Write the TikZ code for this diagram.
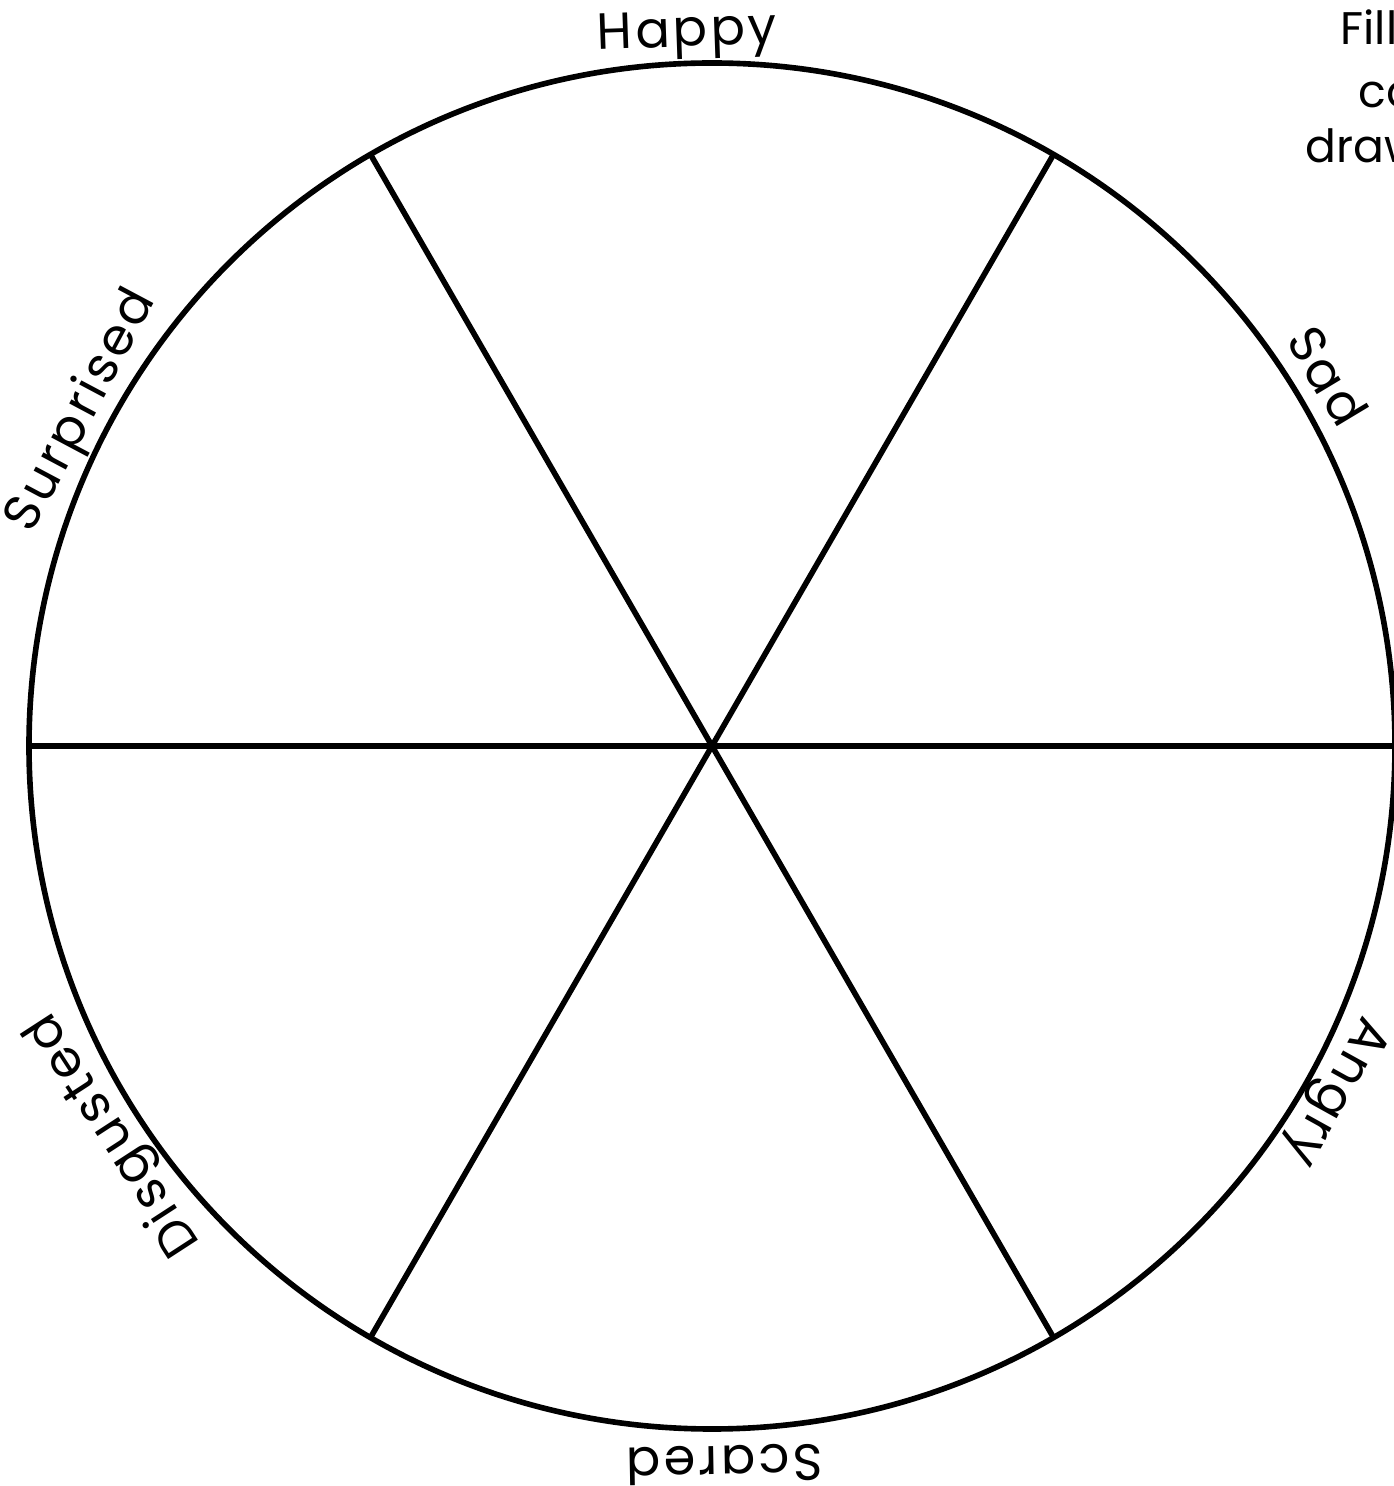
\documentclass[tikz,border=0pt]{standalone}
\usepackage{fontspec}
\setmainfont{Poppins}
\begin{document}
\begin{tikzpicture}[
    rim/.style={line width=1.6pt},
    feel/.style={font=\fontsize{14.5}{16}\selectfont\addfontfeatures{LetterSpace=6}, inner sep=0pt, anchor=base},
    note/.style={font=\fontsize{13}{15}\selectfont, inner sep=0pt, anchor=base west}
]
\useasboundingbox (0,0) rectangle (13.93,14.86);
\coordinate (c) at (7.12,7.40);
\draw[rim] (c) circle (6.83);
\foreach \a in {0,60,...,300}
    \draw[rim] (c) -- ++(\a:6.83);
\foreach \a/\w in {92/Happy,31/Sad,-29/Angry,-89/Scared,213/Disgusted,152/Surprised}
    \node[feel, rotate=\a-90] (\w) at ([shift={(\a:7.0)}]c) {\w};
\node[note] (fill) at (13.40,14.41) {Fill};
\node[note] (col) at (13.58,13.78) {col};
\node[note] (draw) at (13.05,13.23) {draw};
\end{tikzpicture}
\end{document}
